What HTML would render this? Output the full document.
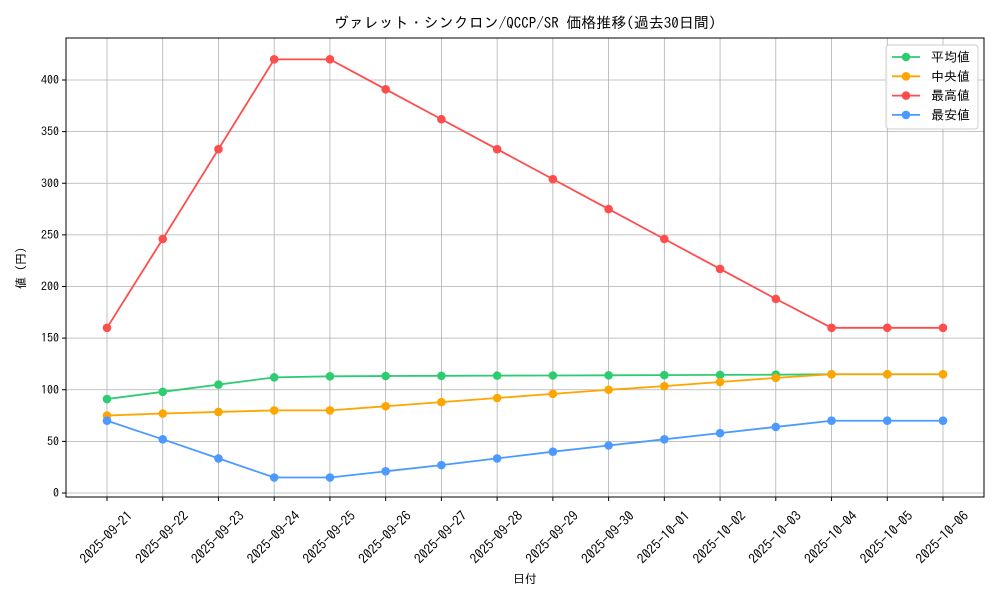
<!DOCTYPE html>
<html><head><meta charset="utf-8"><style>
body{margin:0;background:#fff}
svg{font-family:"IPAGothic","Noto Sans CJK JP",sans-serif}
</style></head><body>
<svg id="s" width="1000" height="600" xmlns="http://www.w3.org/2000/svg"></svg>
<script>
const s=document.getElementById('s');
let h='';
const L=66,R=984,T=38,B=497;
const X=i=>107+i*55.733, Y=v=>493-v*1.0325;
h+=`<rect width="1000" height="600" fill="#fff"/>`;
for(let i=0;i<16;i++){const x=X(i);h+=`<line x1="${x}" y1="${T}" x2="${x}" y2="${B}" stroke="#b0b0b0" stroke-width="0.8"/>`;
const d=new Date(Date.UTC(2025,8,21+i));const lab=d.toISOString().slice(0,10);
h+=`<line x1="${x}" y1="${B}" x2="${x}" y2="${B+4}" stroke="#000"/>`;
h+=`<text transform="translate(${x-1},${537}) rotate(-45)" text-anchor="middle" font-size="13.5" dominant-baseline="central">${lab}</text>`;}
for(let v=0;v<=400;v+=50){const y=Y(v);h+=`<line x1="${L}" y1="${y}" x2="${R}" y2="${y}" stroke="#b0b0b0" stroke-width="0.8"/>`;
h+=`<line x1="${L-4}" y1="${y}" x2="${L}" y2="${y}" stroke="#000"/><text x="${L-7}" y="${y+4}" text-anchor="end" font-size="12">${v}</text>`;}
const S=[
["#2ecc71",[91,98,105,112,113,113.3,113.5,113.7,113.8,114,114.2,114.4,114.6,115,115,115]],
["#ffa500",[75,77,78.5,80,80,84,88,92,96,100,103.5,107.5,111.5,115,115,115]],
["#ff4c4c",[160,246,333,420,420,391,362,333,304,275,246,217,188,160,160,160]],
["#4c9aff",[70,52,33.5,15,15,21,27,33.5,40,46,52,58,64,70,70,70]]];
for(const [c,d] of S){h+=`<polyline fill="none" stroke="${c}" stroke-width="1.8" points="${d.map((v,i)=>X(i)+','+Y(v)).join(' ')}"/>`;
d.forEach((v,i)=>h+=`<circle cx="${X(i)}" cy="${Y(v)}" r="4.3" fill="${c}"/>`);}
h+=`<rect x="${L}" y="${T}" width="${R-L}" height="${B-T}" fill="none" stroke="#000" stroke-width="1"/>`;
h+=`<rect x="886" y="45" width="92" height="84" rx="3" fill="#fff" fill-opacity="0.85" stroke="#ccc"/>`;
const nm=["平均値"," 中央値","最高値","最安値"];
S.forEach(([c],i)=>{const y=57+i*19.3;h+=`<line x1="892" y1="${y}" x2="920" y2="${y}" stroke="${c}" stroke-width="1.8"/><circle cx="906" cy="${y}" r="4.3" fill="${c}"/><text x="931" y="${y+4.5}" font-size="13">${nm[i]}</text>`;});
h+=`<text x="525" y="28" text-anchor="middle" font-size="15">ヴァレット・シンクロン/QCCP/SR 価格推移(過去30日間)</text>`;
h+=`<text x="525" y="583" text-anchor="middle" font-size="12">日付</text>`;
h+=`<text transform="translate(25,268) rotate(-90)" text-anchor="middle" font-size="12">値 (円)</text>`;
s.innerHTML=h;
</script>
</body></html>
